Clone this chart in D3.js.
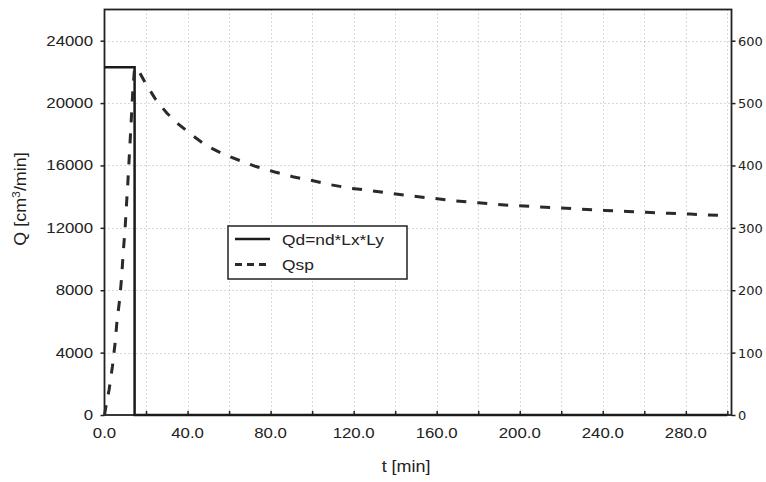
<!DOCTYPE html>
<html>
<head>
<meta charset="utf-8">
<script src="https://cdn.jsdelivr.net/npm/d3@7"></script>
<style>
  body { margin: 0; background: #fff; }
  svg { display: block; font-family: "Liberation Sans", Arial, sans-serif; }
</style>
</head>
<body>
<div id="container"></div>
<script>
// Qd = nd*Lx*Ly (step)
const tQd = [0, 14.5, 14.5, 300];
const qQd = [22300, 22300, 0, 0];

// Qsp (dashed)
const tQsp = [0, 1, 2.2, 3.8, 5.1, 6, 7.3, 8.3, 9, 9.9, 10.5, 11.2, 12.6, 13.6, 14.4, 15.5,
  19.5, 24.3, 30, 35.6, 42, 49.3, 56.8, 64.5, 73, 82, 90.7, 100, 108.7, 118, 128.7, 138,
  148, 158.5, 169, 180, 189, 199, 210, 220, 230, 241, 252, 261, 272, 282, 296];
const qQsp = [0, 800, 1600, 3100, 4600, 6000, 7400, 8900, 10400, 11900, 13300, 14800, 18200, 20700, 22100, 22300,
  21330, 20300, 19360, 18650, 17960, 17250, 16760, 16350, 15930, 15580, 15280, 15030, 14770, 14550, 14380, 14210,
  14040, 13890, 13720, 13610, 13500, 13420, 13340, 13270, 13200, 13120, 13050, 13000, 12930, 12880, 12800];

const xTicks = [0, 40, 80, 120, 160, 200, 240, 280];
const xGrid = [20, 40, 60, 80, 100, 120, 140, 160, 180, 200, 220, 240, 260, 280, 300];
const yLeftTicks = [0, 4000, 8000, 12000, 16000, 20000, 24000];
const yRightTicks = [0, 100, 200, 300, 400, 500, 600];
const seriesNames = ["Qd=nd*Lx*Ly", "Qsp"];

const W = 766, H = 482;
const plot = {left: 104.5, right: 731.5, top: 9.5, bottom: 415};
const sx = 1.12; // the labels in the picture are a bit stretched sideways

const x = d3.scaleLinear().domain([0, 302]).range([plot.left, plot.right]);
const y = d3.scaleLinear().domain([0, 26000]).range([plot.bottom, plot.top]);
const y2 = d3.scaleLinear().domain([0, 650]).range([plot.bottom, plot.top]);

const svg = d3.select("#container").append("svg")
  .attr("width", W).attr("height", H);

// grid
const grid = svg.append("g").attr("stroke", "#b0b0b0").attr("stroke-width", 1)
  .attr("stroke-dasharray", "1,3");
grid.selectAll("line.v").data(xGrid).join("line").attr("class", "v")
  .attr("x1", d => Math.round(x(d)) + 0.5).attr("x2", d => Math.round(x(d)) + 0.5)
  .attr("y1", plot.top).attr("y2", plot.bottom);
grid.selectAll("line.h").data(yLeftTicks.filter(d => d > 0)).join("line").attr("class", "h")
  .attr("x1", plot.left).attr("x2", plot.right)
  .attr("y1", d => Math.round(y(d)) + 0.5).attr("y2", d => Math.round(y(d)) + 0.5);

// axes
const axisB = svg.append("g").attr("transform", `translate(0,${plot.bottom})`)
  .call(d3.axisBottom(x).tickValues(xGrid.concat([0])).tickSize(-4).tickFormat(""));
const axisL = svg.append("g").attr("transform", `translate(${plot.left},0)`)
  .call(d3.axisLeft(y).tickValues(yLeftTicks).tickSize(4).tickFormat(""));
const axisR = svg.append("g").attr("transform", `translate(${plot.right},0)`)
  .call(d3.axisRight(y2).tickValues(yRightTicks).tickSize(4).tickFormat(""));
[axisB, axisL, axisR].forEach(g => {
  g.select(".domain").remove();
  g.selectAll(".tick line").attr("stroke", "#222").attr("stroke-width", 1.5);
});

// frame
svg.append("rect")
  .attr("x", plot.left).attr("y", plot.top)
  .attr("width", plot.right - plot.left).attr("height", plot.bottom - plot.top)
  .attr("fill", "none").attr("stroke", "#222").attr("stroke-width", 1.8);

// tick labels
svg.append("g").selectAll("text").data(xTicks).join("text")
  .attr("transform", d => `translate(${x(d)},438) scale(${sx},1)`)
  .attr("text-anchor", "middle").attr("font-size", 15).attr("fill", "#222")
  .text(d => d.toFixed(1));
svg.append("g").selectAll("text").data(yLeftTicks).join("text")
  .attr("transform", d => `translate(93,${y(d) + 5}) scale(${sx},1)`)
  .attr("text-anchor", "end").attr("font-size", 15).attr("fill", "#222")
  .text(d => d);
svg.append("g").selectAll("text").data(yRightTicks).join("text")
  .attr("x", 738).attr("y", d => y2(d) + 5)
  .attr("text-anchor", "start").attr("fill", "#222")
  .attr("font-family", "'DejaVu Sans', Verdana, sans-serif").attr("font-size", 13)
  .text(d => d);

// axis titles
svg.append("text")
  .attr("transform", `translate(406,472) scale(${sx},1)`)
  .attr("text-anchor", "middle").attr("font-size", 16).attr("fill", "#222")
  .text("t [min]");
const yt = svg.append("text")
  .attr("transform", `translate(26,199) rotate(-90) scale(${sx},1)`)
  .attr("text-anchor", "middle").attr("font-size", 16).attr("fill", "#222");
yt.append("tspan").text("Q [cm");
yt.append("tspan").attr("dy", -6).attr("font-size", 11).text("3");
yt.append("tspan").attr("dy", 6).text("/min]");

// lines
const lineQd = d3.line().x((d, i) => x(tQd[i])).y(d => y(d));
const lineQsp = d3.line().x((d, i) => x(tQsp[i])).y(d => y(d));

svg.append("path").datum(qQd)
  .attr("fill", "none").attr("stroke", "#1a1a1a").attr("stroke-width", 2.5)
  .attr("d", lineQd);
svg.append("path").datum(qQsp)
  .attr("fill", "none").attr("stroke", "#2a2a2a").attr("stroke-width", 3)
  .attr("stroke-dasharray", "10,11")
  .attr("d", lineQsp);

// legend
const lg = svg.append("g").attr("transform", "translate(228,226)");
lg.append("rect").attr("width", 179).attr("height", 53)
  .attr("fill", "#fff").attr("stroke", "#222").attr("stroke-width", 1.5);
lg.append("line").attr("x1", 7).attr("x2", 42).attr("y1", 13).attr("y2", 13)
  .attr("stroke", "#1a1a1a").attr("stroke-width", 2.5);
lg.append("line").attr("x1", 7).attr("x2", 42).attr("y1", 38.5).attr("y2", 38.5)
  .attr("stroke", "#2a2a2a").attr("stroke-width", 3).attr("stroke-dasharray", "7,5");
lg.selectAll("text").data(seriesNames).join("text")
  .attr("transform", (d, i) => `translate(54,${19 + i * 25}) scale(${sx},1)`)
  .attr("font-size", 15.5).attr("fill", "#222")
  .text(d => d);
</script>
</body>
</html>
